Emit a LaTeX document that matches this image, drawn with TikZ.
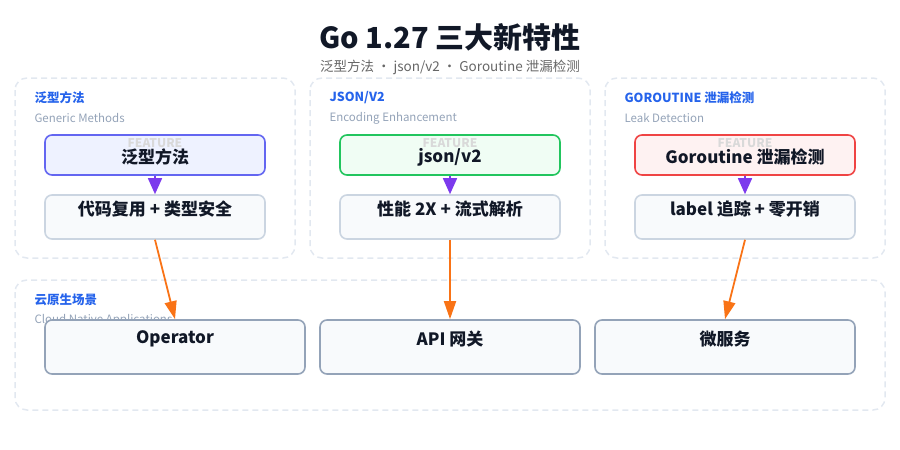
\documentclass[tikz,border=0pt]{standalone}
\usepackage{fontspec}
\setmainfont{Noto Sans CJK SC}
\usepackage{xcolor}
\usetikzlibrary{positioning, arrows.meta, calc}
\definecolor{panelline}{HTML}{E2E8F0}
\definecolor{tagblue}{HTML}{2563EB}
\definecolor{subgray}{HTML}{94A3B8}
\definecolor{inkdark}{HTML}{111827}
\definecolor{descline}{HTML}{CBD5E1}
\definecolor{descfill}{HTML}{F8FAFC}
\definecolor{arrpurple}{HTML}{7C3AED}
\definecolor{arrorange}{HTML}{F97316}
\definecolor{genline}{HTML}{6366F1}
\definecolor{genfill}{HTML}{EEF2FF}
\definecolor{jsonline}{HTML}{22C55E}
\definecolor{jsonfill}{HTML}{F0FDF4}
\definecolor{leakline}{HTML}{EF4444}
\definecolor{leakfill}{HTML}{FEF2F2}

\begin{document}
\begin{tikzpicture}[
   x=1pt, y=-1pt,
   panel/.style = {draw=panelline, dash pattern=on 6pt off 4pt, line width=1.5pt, rounded corners=12pt},
   tag/.style = {anchor=west, text=tagblue, font=\bfseries\fontsize{12.5}{14}\selectfont},
   subtag/.style = {anchor=west, text=subgray, font=\fontsize{11.5}{13}\selectfont},
   feat/.style = {draw, line width=1.6pt, rounded corners=7pt, minimum width=220pt, minimum height=40pt},
   desc/.style = {draw=descline, line width=1.6pt, fill=descfill, rounded corners=7pt, minimum width=220pt, minimum height=44pt},
   app/.style = {draw=subgray, line width=1.6pt, fill=descfill, rounded corners=7pt, minimum width=260pt, minimum height=54pt},
   label/.style = {text=inkdark, font=\bfseries\fontsize{17}{19}\selectfont},
   ftag/.style = {text=black!15, font=\bfseries\fontsize{12}{13}\selectfont},
   link/.style = {draw=arrpurple, line width=1.6pt, -{Triangle[width=14pt,length=16pt]}},
   flow/.style = {draw=arrorange, line width=1.8pt, -{Triangle[width=12pt,length=18pt]}}
   ]
  \useasboundingbox (0,0) rectangle (900,450);

  % Title
  \node[text=inkdark, font=\bfseries\fontsize{29}{32}\selectfont] (title) at (450,37) {Go 1.27 三大新特性};
  \node[text=black!60, font=\fontsize{13.5}{15}\selectfont] (subtitle) at (450,67) {泛型方法 · json/v2 · Goroutine 泄漏检测};

  % Panels
  \draw[panel] (15,78) rectangle (295,258);
  \draw[panel] (310,78) rectangle (590,258);
  \draw[panel] (605,78) rectangle (885,258);
  \draw[panel] (15,280) rectangle (885,410);

  \node[tag] (tag1) at (31,98) {泛型方法};
  \node[subtag] (sub1) at (31,118) {Generic Methods};
  \node[tag] (tag2) at (326,98) {JSON/V2};
  \node[subtag] (sub2) at (326,118) {Encoding Enhancement};
  \node[tag] (tag3) at (621,98) {GOROUTINE 泄漏检测};
  \node[subtag] (sub3) at (621,118) {Leak Detection};
  \node[tag] (tag4) at (31,300) {云原生场景};
  \node[subtag] (sub4) at (31,320) {Cloud Native Applications};

  % Feature boxes
  \node[feat, draw=genline, fill=genfill] (generic) at (155,155) {};
  \node[feat, draw=jsonline, fill=jsonfill] (json) at (450,155) {};
  \node[feat, draw=leakline, fill=leakfill] (leak) at (745,155) {};
  \foreach \n/\t in {generic/泛型方法, json/{json/v2}, leak/Goroutine 泄漏检测} {
    \node[ftag] at ($(\n.north)+(0,9)$) {FEATURE};
    \node[label] at ($(\n.north)+(0,23)$) {\t};
  }

  % Detail boxes
  \node[desc] (reuse) at (155,217) {};
  \node[desc] (speed) at (450,217) {};
  \node[desc] (trace) at (745,217) {};
  \node[label] at ($(reuse.north)+(0,15)$) {代码复用 + 类型安全};
  \node[label] at ($(speed.north)+(0,15)$) {性能 2X + 流式解析};
  \node[label] at ($(trace.north)+(0,15)$) {label 追踪 + 零开销};

  % Application boxes
  \node[app] (operator) at (175,347) {};
  \node[app] (gateway) at (450,347) {};
  \node[app] (micro) at (725,347) {};
  \node[label] at ($(operator.north)+(0,20)$) {Operator};
  \node[label] at ($(gateway.north)+(0,20)$) {API 网关};
  \node[label] at ($(micro.north)+(0,20)$) {微服务};

  % Arrows
  \draw[link] (generic) -- (reuse);
  \draw[link] (json) -- (speed);
  \draw[link] (leak) -- (trace);
  \draw[flow] (reuse.south) -- (operator.north);
  \draw[flow] (speed.south) -- (gateway.north);
  \draw[flow] (trace.south) -- (micro.north);
\end{tikzpicture}
\end{document}
